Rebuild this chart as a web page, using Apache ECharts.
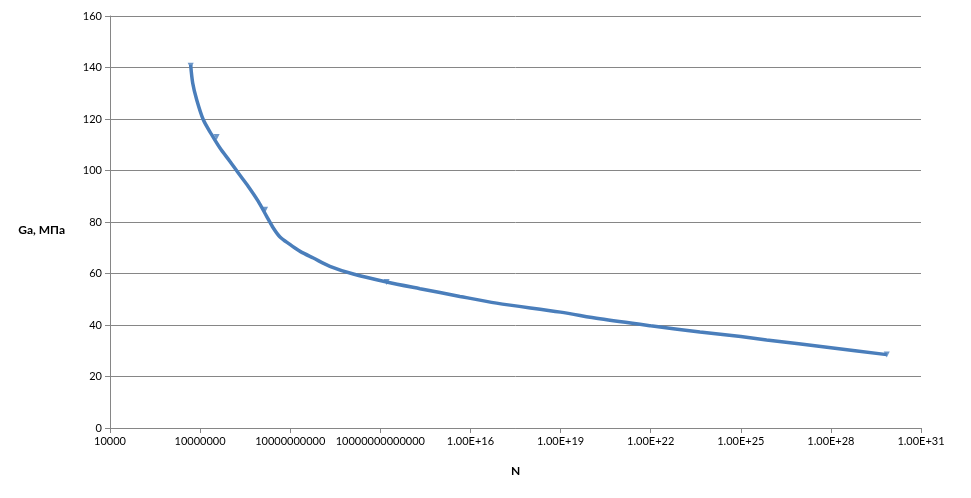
<!DOCTYPE html>
<html>
<head>
<meta charset="utf-8">
<script src="https://cdn.jsdelivr.net/npm/echarts@6/dist/echarts.min.js"></script>
<style>
html,body{margin:0;padding:0;background:#fff;}
#chart{width:971px;height:498px;}
</style>
</head>
<body>
<div id="chart"></div>
<script>
// Curve: N (cycles) and Ga (MPa)
var curveN = [4.85e6, 5.66e6, 7.69e6, 1.28e7, 2.43e7, 4.59e7, 9.89e7, 1.87e8, 4.02e8, 8.65e8, 1.64e9, 2.73e9, 4.57e9, 9.77e9, 1.44e10, 2.14e10, 5.89e10, 2.09e11, 1.26e12, 1.62e13, 2.09e14, 4.47e15, 7.41e16, 1e19, 2.04e20, 1e22, 4.37e23, 1e25, 7.24e25, 1e28, 7.24e29];
var curveG = [141, 134, 127.5, 119.7, 113.9, 108.7, 103.5, 99, 93.8, 88, 82.2, 77.7, 74.2, 71.3, 69.9, 68.6, 66, 62.8, 59.8, 56.7, 54.1, 51.1, 48.5, 45.0, 42.4, 39.7, 37.3, 35.5, 34.2, 31.2, 28.5];
// Triangle markers on the curve
var markerN = [4.85e6, 3.55e7, 1.45e9, 1.62e13, 7.24e29];
var markerG = [140.7, 113, 84.8, 56.7, 28.5];
// Axis ticks
var xTickExp = [4, 7, 10, 13, 16, 19, 22, 25, 28, 31];
var xTickLabels = ['10000', '10000000', '10000000000', '10000000000000', '1.00E+16', '1.00E+19', '1.00E+22', '1.00E+25', '1.00E+28', '1.00E+31'];
var yTicks = [0, 20, 40, 60, 80, 100, 120, 140, 160];

var lineData = curveN.map(function (n, i) { return [n, curveG[i]]; });
var markData = markerN.map(function (n, i) { return [n, markerG[i]]; });

var chart = echarts.init(document.getElementById('chart'));
var font = 'Lato, "Noto Sans", sans-serif';
chart.setOption({
  animation: false,
  backgroundColor: '#ffffff',
  grid: { left: 110, right: 50, top: 16, bottom: 70, containLabel: false },
  xAxis: {
    type: 'log',
    logBase: 10,
    min: 1e4,
    max: 1e31,
    interval: 3,
    name: 'N',
    nameLocation: 'middle',
    nameGap: 37,
    nameTextStyle: { fontFamily: font, fontSize: 12, color: '#000', fontWeight: 'bold' },
    axisLine: { show: true, lineStyle: { color: '#868686', width: 1 } },
    axisTick: { show: true, length: 5, lineStyle: { color: '#868686' } },
    splitLine: { show: false },
    minorTick: { show: false },
    axisLabel: {
      margin: 8,
      fontFamily: font, fontSize: 11, color: '#000',
      formatter: function (v) {
        var e = Math.round(Math.log(v) / Math.LN10);
        var idx = xTickExp.indexOf(e);
        return idx >= 0 ? xTickLabels[idx] : '';
      }
    }
  },
  yAxis: {
    type: 'value',
    min: yTicks[0],
    max: yTicks[yTicks.length - 1],
    interval: 20,
    name: 'Ga, МПа',
    nameLocation: 'middle',
    nameRotate: 0,
    nameGap: 45,
    nameTextStyle: { fontFamily: font, fontSize: 12, color: '#000', fontWeight: 'bold', verticalAlign: 'top', padding: [2, 0, 0, 0] },
    axisLine: { show: true, lineStyle: { color: '#868686', width: 1 } },
    axisTick: { show: true, length: 5, lineStyle: { color: '#868686' } },
    splitLine: { show: true, lineStyle: { color: '#868686', width: 1 } },
    axisLabel: { margin: 8, fontFamily: font, fontSize: 11, color: '#000' }
  },
  series: [
    {
      type: 'line',
      data: lineData,
      smooth: 0.3,
      showSymbol: false,
      symbol: 'none',
      lineStyle: { color: '#4a7ebb', width: 3.5 },
      z: 3
    },
    {
      type: 'scatter',
      data: markData,
      symbol: 'triangle',
      symbolRotate: 180,
      symbolSize: 6,
      itemStyle: { color: '#4a7ebb' },
      z: 4
    }
  ]
});
</script>
</body>
</html>
